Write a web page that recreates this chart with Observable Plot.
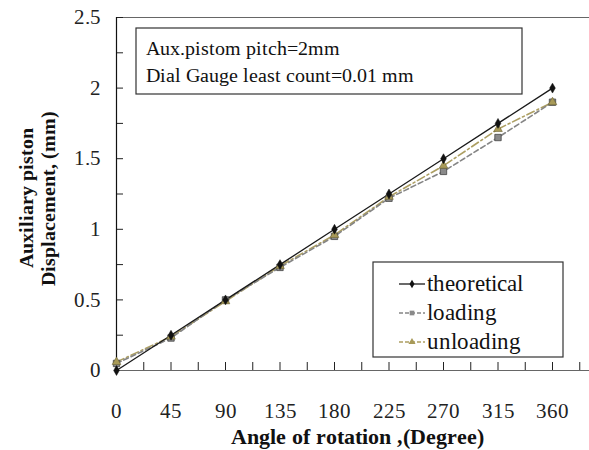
<!DOCTYPE html>
<html><head><meta charset="utf-8">
<script src="https://cdn.jsdelivr.net/npm/d3@7"></script>
<script src="https://cdn.jsdelivr.net/npm/@observablehq/plot@0.6"></script>
<style>
@font-face { font-family: "LSerif"; src: local("Liberation Serif"), local("LiberationSerif"), local("LiberationSerif-Regular"); font-weight: normal; }
@font-face { font-family: "LSerif"; src: local("Liberation Serif Bold"), local("LiberationSerif-Bold"); font-weight: bold; }
body{margin:0;background:#fff;font-family:'Liberation Serif';}
</style>
</head><body><div id="chart"></div>
<script>
const angles = [0, 45, 90, 135, 180, 225, 270, 315, 360];
const theoretical = [0, 0.25, 0.5, 0.75, 1.0, 1.25, 1.5, 1.75, 2.0];
const loading = [0.05, 0.23, 0.5, 0.73, 0.95, 1.22, 1.41, 1.65, 1.9];
const unloading = [0.06, 0.24, 0.49, 0.74, 0.96, 1.23, 1.45, 1.71, 1.9];
const xTickLabels = [0, 45, 90, 135, 180, 225, 270, 315, 360];
const yTickLabels = [0, 0.5, 1, 1.5, 2, 2.5];
const seriesNames = ["theoretical", "loading", "unloading"];
const noteLines = ["Aux.pistom pitch=2mm", "Dial Gauge least count=0.01 mm"];
const xLabel = "Angle of rotation ,(Degree)";
const yLabelLines = ["Auxiliary piston", "Displacement, (mm)"];

const rows = (vals) => angles.map((a, i) => ({a, v: vals[i]}));
const T = rows(theoretical), L = rows(loading), U = rows(unloading);
const xMinor = d3.range(0, 390, 22.5);
const yMinor = d3.range(0, 2.51, 0.25);

const W = 589, H = 450, ml = 116, mr = 0, mt = 17, mb = 80;
const xMax = 360 * (W - ml) / 436;
const FONT = "Liberation Serif";

const styles = {
  theoretical: {stroke: "#1a1a1a", dash: null, width: 1.3},
  loading: {stroke: "#858585", dash: "5,3", width: 1.6},
  unloading: {stroke: "#ad9f62", dash: "8,3,2,3", width: 1.6}
};

const plot = Plot.plot({
  width: W, height: H,
  marginLeft: ml, marginRight: mr, marginTop: mt, marginBottom: mb,
  x: {domain: [0, xMax], label: null},
  y: {domain: [0, 2.5], label: null},
  style: "font-family: 'Liberation Serif'; background: #fff;",
  marks: [
    Plot.ruleY([2.5], {stroke: "#666", strokeWidth: 1.2}),
    Plot.axisX({ticks: xMinor, tickSize: -8, tickFormat: () => "", stroke: "#222", label: null}),
    Plot.axisX({ticks: xTickLabels, tickSize: 0, tickPadding: 33, fontSize: 21, fill: "#222", label: null}),
    Plot.axisY({ticks: yMinor, tickSize: -7, tickFormat: () => "", stroke: "#222", label: null}),
    Plot.axisY({ticks: yTickLabels, tickSize: 0, tickPadding: 16, fontSize: 21, fill: "#222", tickFormat: d => String(d), label: null}),
    Plot.ruleY([0], {stroke: "#666", strokeWidth: 1.2}),
    Plot.ruleX([0], {stroke: "#111", strokeWidth: 1.2}),
    Plot.line(U, {x: "a", y: "v", stroke: styles.unloading.stroke, strokeWidth: styles.unloading.width, strokeDasharray: styles.unloading.dash}),
    Plot.line(L, {x: "a", y: "v", stroke: styles.loading.stroke, strokeWidth: styles.loading.width, strokeDasharray: styles.loading.dash}),
    Plot.line(T, {x: "a", y: "v", stroke: styles.theoretical.stroke, strokeWidth: styles.theoretical.width}),
    Plot.dot(L, {x: "a", y: "v", symbol: "square", r: 3.6, fill: "#8a8a8a", stroke: "#444", strokeWidth: 0.8}),
    Plot.dot(U, {x: "a", y: "v", symbol: "triangle", r: 3.2, fill: "#a89a58", stroke: "#6d6331", strokeWidth: 0.6}),
    Plot.dot(T, {x: "a", y: "v", symbol: "diamond", r: 3, fill: "#111", stroke: "#111", strokeWidth: 0.5})
  ]
});
plot.setAttribute("font-family", FONT);
document.getElementById("chart").appendChild(plot);

const svg = d3.select(plot);
// note box
const nb = svg.append("g").attr("text-anchor", "start");
nb.append("rect").attr("x", 136).attr("y", 28).attr("width", 386).attr("height", 66)
  .attr("fill", "#fff").attr("stroke", "#333").attr("stroke-width", 1.2);
noteLines.forEach((t, i) => nb.append("text").attr("x", 146).attr("y", 55 + i * 27)
  .attr("text-anchor", "start").attr("font-size", 20).attr("fill", "#111").text(t));

// legend box
const lg = svg.append("g").attr("text-anchor", "start");
lg.append("rect").attr("x", 373).attr("y", 262).attr("width", 190).attr("height", 95)
  .attr("fill", "#fff").attr("stroke", "#333").attr("stroke-width", 1.2);
seriesNames.forEach((n, i) => {
  const y = 284 + i * 29;
  const s = styles[n];
  lg.append("line").attr("x1", 399).attr("x2", 425).attr("y1", y).attr("y2", y)
    .attr("stroke", s.stroke).attr("stroke-width", s.width).attr("stroke-dasharray", s.dash ? "4,2" : null);
  const sym = n === "theoretical" ? d3.symbolDiamond : n === "loading" ? d3.symbolSquare : d3.symbolTriangle;
  const fill = n === "theoretical" ? "#111" : n === "loading" ? "#8a8a8a" : "#a89a58";
  lg.append("path").attr("d", d3.symbol(sym, 22)()).attr("transform", `translate(412,${y})`).attr("fill", fill);
  lg.append("text").attr("x", 427).attr("y", y + 7).attr("text-anchor", "start")
    .attr("font-size", 23).attr("fill", "#111").text(n);
});

// axis titles
svg.append("text").attr("x", 357).attr("y", 444).attr("text-anchor", "middle")
  .attr("font-size", 22).attr("font-weight", "bold").attr("fill", "#111").text(xLabel);
yLabelLines.forEach((t, i) => svg.append("text")
  .attr("transform", `translate(${33 + i * 22},198) rotate(-90)`)
  .attr("text-anchor", "middle").attr("font-size", 20).attr("font-weight", "bold").attr("fill", "#111").text(t));
svg.selectAll("text").attr("font-family", "LSerif, 'Liberation Serif', serif").style("font-family", "LSerif, 'Liberation Serif', serif");
</script></body></html>
